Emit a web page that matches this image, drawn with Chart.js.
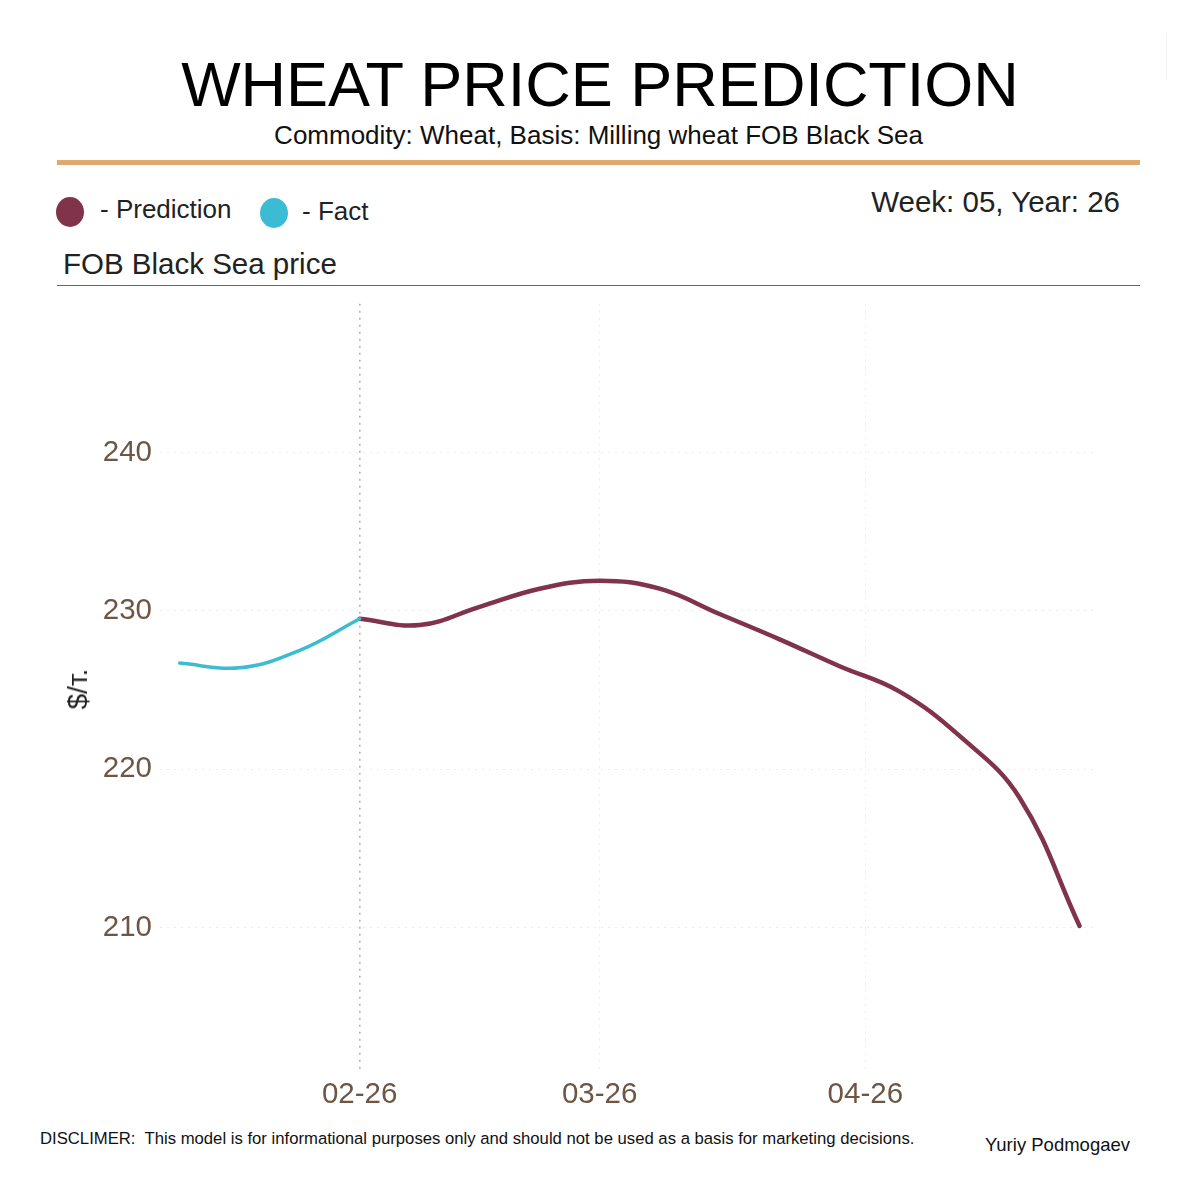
<!DOCTYPE html>
<html>
<head>
<meta charset="utf-8">
<script src="https://cdn.jsdelivr.net/npm/chart.js@4"></script>
<style>
  body { margin: 0; background: #fff; font-family: "Liberation Sans", Arial, sans-serif; }
  #page { position: relative; width: 1200px; height: 1200px; overflow: hidden; }
  .t { position: absolute; white-space: nowrap; line-height: 1; }
  .dot { position: absolute; border-radius: 50%; }
  .rule { position: absolute; }
  #chartBox { position: absolute; left: 0; top: 278px; width: 1200px; height: 842px; }
</style>
</head>
<body>
<div id="page">
  <div class="t" style="left:0;width:1200px;text-align:center;top:53px;font-size:63px;color:#000;">WHEAT PRICE PREDICTION</div>
  <div class="t" style="left:0;width:1197px;text-align:center;top:122px;font-size:26px;color:#111;">Commodity: Wheat, Basis: Milling wheat FOB Black Sea</div>
  <div class="rule" style="left:57px;top:160px;width:1083px;height:5px;background:#e0a96c;"></div>

  <div class="dot" style="left:56px;top:197px;width:28px;height:30px;background:#80334a;"></div>
  <div class="t" style="left:100px;top:196px;font-size:26px;color:#222;">- Prediction</div>
  <div class="dot" style="left:260px;top:198px;width:28px;height:30px;background:#3cbcd2;"></div>
  <div class="t" style="left:302px;top:198px;font-size:26px;color:#222;">- Fact</div>
  <div class="t" style="right:80px;top:187px;font-size:29.5px;color:#222;">Week: 05, Year: 26</div>

  <div class="t" style="left:63px;top:249px;font-size:29.5px;color:#222;">FOB Black Sea price</div>
  <div class="rule" style="left:57px;top:285px;width:1083px;height:1px;background:#7a6352;"></div>

  <div id="chartBox"><canvas id="chart" width="1200" height="842"></canvas></div>

  <div class="t" style="left:78px;top:689px;font-size:28px;color:#222;transform:translate(-50%,-50%) rotate(-90deg);">$/т.</div>

  <div class="t" style="left:40px;top:1131px;font-size:16.7px;color:#111;">DISCLIMER:&nbsp; This model is for informational purposes only and should not be used as a basis for marketing decisions.</div>
  <div class="t" style="left:985px;top:1136px;font-size:18.5px;color:#111;">Yuriy Podmogaev</div>
  <div class="rule" style="left:1166px;top:33px;width:1px;height:47px;background:#f2f2f2;"></div>
</div>

<script>
// days counted from 1 Jan 2026 (Feb 1 = 31, Mar 1 = 59, Apr 1 = 90)
const factDays = [10, 17, 24, 31];
const factValues = [226.7, 226.4, 227.5, 229.5];

const predDays = [31, 38, 45, 52, 59, 66, 73, 80, 87, 94, 101, 108, 115];
const predValues = [229.5, 229.1, 230.25, 231.4, 231.9, 231.4, 229.8, 228.2, 226.5, 224.9, 222.1, 218.2, 210.1];

const xTickDays = [31, 59, 90];
const xTickLabels = ['02-26', '03-26', '04-26'];
const yTicks = [210, 220, 230, 240];

const toPoints = (xs, ys) => xs.map((x, i) => ({ x, y: ys[i] }));
const tickColor = '#6e5645';

let chart;

window.onload = function () {
  const ctx = document.getElementById('chart').getContext('2d');

  chart = new Chart(ctx, {
    type: 'line',
    data: {
      datasets: [
        {
          label: 'Fact',
          data: toPoints(factDays, factValues),
          borderColor: '#3cbcd2',
          borderWidth: 3.5,
          pointRadius: 0,
          tension: 0.4,
          borderCapStyle: 'round'
        },
        {
          label: 'Prediction',
          data: toPoints(predDays, predValues),
          borderColor: '#80334a',
          borderWidth: 4.5,
          pointRadius: 0,
          tension: 0.4,
          borderCapStyle: 'round'
        }
      ]
    },
    options: {
      responsive: false,
      animation: false,
      maintainAspectRatio: false,
      layout: { padding: { top: 10, right: 105, left: 0, bottom: 0 } },
      plugins: { legend: { display: false }, tooltip: { enabled: false } },
      scales: {
        x: {
          type: 'linear',
          min: 7.7,
          max: 116.8,
          afterBuildTicks: s => { s.ticks = xTickDays.map(v => ({ value: v })); },
          afterFit: s => { s.height = 50; },
          ticks: {
            padding: 7,
            maxRotation: 0,
            color: tickColor,
            font: { family: 'Liberation Sans', size: 29.5 },
            callback: v => xTickLabels[xTickDays.indexOf(v)]
          },
          grid: {
            drawTicks: false,
            lineWidth: c => (c.tick && c.tick.value === 31 ? 1.6 : 1),
            color: c => (c.tick && c.tick.value === 31 ? '#b4b4b4' : '#ebebeb')
          },
          border: { display: false, dash: [2, 5] }
        },
        y: {
          min: 201,
          max: 249.4,
          afterBuildTicks: s => { s.ticks = yTicks.map(v => ({ value: v })); },
          afterFit: s => { s.width = 160; },
          ticks: {
            padding: 8,
            color: tickColor,
            font: { family: 'Liberation Sans', size: 29.5 }
          },
          grid: { drawTicks: false, color: '#ebebeb', lineWidth: 1 },
          border: { display: false, dash: [2, 5] }
        }
      }
    }
  });
};
</script>
</body>
</html>
